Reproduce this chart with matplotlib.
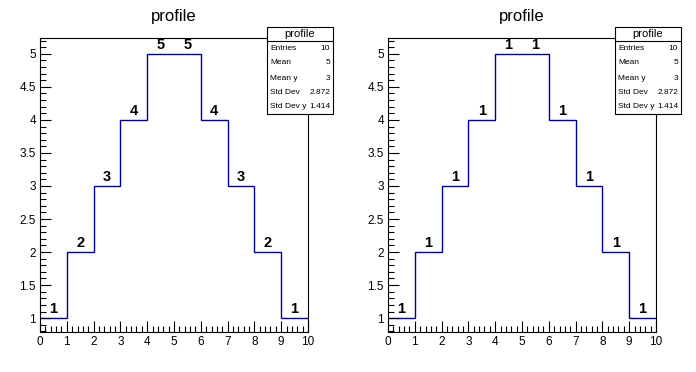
import numpy as np
import matplotlib
matplotlib.use("Agg")
import matplotlib.pyplot as plt
from matplotlib.ticker import MultipleLocator, FormatStrFormatter

plt.rcParams['font.family'] = ['Liberation Sans', 'DejaVu Sans']

bin_edges = [0, 1, 2, 3, 4, 5, 6, 7, 8, 9, 10]
bin_means = [1, 2, 3, 4, 5, 5, 4, 3, 2, 1]
bin_entries = [1, 1, 1, 1, 1, 1, 1, 1, 1, 1]
title = "profile"

centers = np.array([(bin_edges[i] + bin_edges[i + 1]) / 2 for i in range(len(bin_means))])
yv = np.array(bin_means, dtype=float)
n = len(centers)
stats = [
    ("Entries", f"{n}"),
    ("Mean", f"{centers.mean():.4g}"),
    ("Mean y", f"{yv.mean():.4g}"),
    ("Std Dev", f"{centers.std():.4g}"),
    ("Std Dev y", f"{yv.std():.4g}"),
]

W, H = 696, 372
fig = plt.figure(figsize=(W / 100, H / 100), dpi=100)
line_color = '#000099'

panels = [(40, bin_means), (388, bin_entries)]
for x0, labels in panels:
    ax = fig.add_axes([x0 / W, (H - 332) / H, 268 / W, 294 / H])
    ax.stairs(bin_means, bin_edges, color=line_color, linewidth=1.0, baseline=None)
    ax.set_xlim(0, 10)
    ax.set_ylim(0.79, 5.24)
    ax.xaxis.set_major_locator(MultipleLocator(1))
    ax.xaxis.set_minor_locator(MultipleLocator(0.2))
    ax.yaxis.set_major_locator(MultipleLocator(0.5))
    ax.yaxis.set_minor_locator(MultipleLocator(0.1))
    ax.yaxis.set_major_formatter(FormatStrFormatter('%g'))
    ax.tick_params(which='both', direction='in', top=False, right=False,
                   labelsize=8.5, width=0.8, pad=3)
    ax.tick_params(which='major', length=8)
    ax.tick_params(which='minor', length=4)
    for s in ax.spines.values():
        s.set_linewidth(0.8)
    for c, m, lab in zip(centers, bin_means, labels):
        ax.annotate(str(lab), (c, m), xytext=(0, 1.5), textcoords='offset points',
                    ha='center', va='bottom', fontsize=10.5, fontweight='bold')
    fig.text((x0 + 134) / W, (H - 16) / H, title, ha='center', va='center', fontsize=12)

    # stats box
    bx0 = x0 + 227
    bx1 = bx0 + 66
    by_top, by_bot, by_hdr = 27, 114, 41
    rect = plt.Rectangle((bx0 / W, (H - by_bot) / H), (bx1 - bx0) / W, (by_bot - by_top) / H,
                         transform=fig.transFigure, facecolor='white', edgecolor='black',
                         linewidth=0.8, zorder=5)
    fig.add_artist(rect)
    fig.add_artist(plt.Line2D([bx0 / W, bx1 / W], [(H - by_hdr) / H] * 2,
                              transform=fig.transFigure, color='black', linewidth=0.8, zorder=6))
    fig.text((bx0 + bx1) / 2 / W, (H - 34) / H, title, ha='center', va='center',
             fontsize=8, zorder=7)
    rows_y = [49, 63, 78, 92, 106]
    for (k, v), ry in zip(stats, rows_y):
        fig.text((bx0 + 3) / W, (H - ry) / H, k, ha='left', va='center', fontsize=6, zorder=7)
        fig.text((bx1 - 3) / W, (H - ry) / H, v, ha='right', va='center', fontsize=6, zorder=7)

fig.savefig("out.png", dpi=100)
